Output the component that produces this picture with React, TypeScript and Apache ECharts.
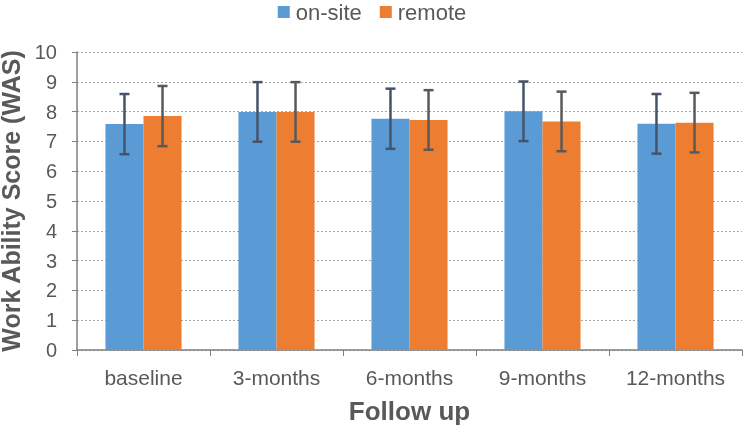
import React, { useEffect, useRef } from "react";
import * as echarts from "echarts";

const categories = ["baseline", "3-months", "6-months", "9-months", "12-months"];
const onsiteMeans = [7.58, 7.99, 7.76, 8.01, 7.59];
const onsiteErr = [1.01, 1.0, 1.01, 1.0, 1.0];
const remoteMeans = [7.85, 7.99, 7.72, 7.67, 7.63];
const remoteErr = [1.01, 1.0, 1.0, 1.0, 1.0];
const yTicks = [0, 1, 2, 3, 4, 5, 6, 7, 8, 9, 10];

const BLUE = "#5B9BD5";
const ORANGE = "#ED7D31";
const TEXT = "#595959";
const FONT = "'Liberation Sans', Arial, sans-serif";
const BAR_FRAC = 0.286;

function errorSeries(name: string, means: number[], errs: number[], side: number, color: string) {
  return {
    type: "custom",
    name: name + "-err",
    silent: true,
    z: 5,
    data: means.map((m, i) => [i, m - errs[i], m + errs[i]]),
    encode: { x: 0, y: [1, 2] },
    renderItem: (params: any, api: any) => {
      const idx = api.value(0);
      const lo = api.coord([idx, api.value(1)]);
      const hi = api.coord([idx, api.value(2)]);
      const band = api.size([1, 0])[0];
      const bw = band * BAR_FRAC;
      const x = lo[0] + side * bw / 2;
      const cap = 5;
      const style = { stroke: color, lineWidth: 2.5 };
      return {
        type: "group",
        children: [
          { type: "line", shape: { x1: x, y1: lo[1], x2: x, y2: hi[1] }, style },
          { type: "line", shape: { x1: x - cap, y1: lo[1], x2: x + cap, y2: lo[1] }, style },
          { type: "line", shape: { x1: x - cap, y1: hi[1], x2: x + cap, y2: hi[1] }, style },
        ],
      };
    },
  };
}

export default function App() {
  const ref = useRef<HTMLDivElement>(null);
  useEffect(() => {
    if (!ref.current) return;
    const chart = echarts.init(ref.current, undefined, { renderer: "svg" });
    chart.setOption({
      animation: false,
      textStyle: { fontFamily: FONT },
      legend: {
        top: -4,
        left: "center",
        itemWidth: 12,
        itemHeight: 12,
        itemGap: 18,
        icon: "rect",
        data: ["on-site", "remote"],
        textStyle: { color: TEXT, fontSize: 22, fontFamily: FONT, padding: [0, 0, 0, 1] },
      },
      grid: {
        left: 77,
        right: 2,
        top: 52,
        bottom: 75,
        containLabel: false,
        outerBoundsMode: "none",
      },
      xAxis: {
        type: "category",
        data: categories,
        name: "Follow up",
        nameLocation: "middle",
        nameGap: 48,
        nameTextStyle: { color: TEXT, fontSize: 26, fontWeight: "bold", fontFamily: FONT },
        axisLine: { lineStyle: { color: "#7f7f7f", width: 1.5 } },
        axisTick: { show: true, interval: 0, length: 6, lineStyle: { color: "#7f7f7f" }, alignWithLabel: false },
        axisLabel: { color: TEXT, fontSize: 21, margin: 17, interval: 0, hideOverlap: false, fontFamily: FONT },
      },
      yAxis: {
        type: "value",
        min: 0,
        max: 10,
        interval: 1,
        name: "Work Ability Score (WAS)",
        nameLocation: "middle",
        nameGap: 45,
        nameTextStyle: { color: TEXT, fontSize: 25, lineHeight: 24, fontWeight: "bold", fontFamily: FONT },
        axisLine: { show: true, lineStyle: { color: "#7f7f7f", width: 1.5 } },
        axisTick: { show: true, length: 5, lineStyle: { color: "#7f7f7f" } },
        axisLabel: {
          color: TEXT,
          fontSize: 20,
          margin: 20,
          fontFamily: FONT,
          formatter: (v: number) => (yTicks.includes(v) ? String(v) : ""),
        },
        splitLine: { show: true, lineStyle: { color: "#a6a6a6", type: [2, 2], width: 1.2 } },
      },
      series: [
        {
          name: "on-site",
          type: "bar",
          data: onsiteMeans,
          barWidth: (BAR_FRAC * 100).toFixed(1) + "%",
          barGap: "0%",
          itemStyle: { color: BLUE },
        },
        {
          name: "remote",
          type: "bar",
          data: remoteMeans,
          barWidth: (BAR_FRAC * 100).toFixed(1) + "%",
          barGap: "0%",
          itemStyle: { color: ORANGE },
        },
        errorSeries("on-site", onsiteMeans, onsiteErr, -1, "#44546A"),
        errorSeries("remote", remoteMeans, remoteErr, 1, "#595959"),
      ],
    });
    return () => chart.dispose();
  }, []);
  return (
    <div
      ref={ref}
      style={{ position: "fixed", left: 0, top: 0, width: 744, height: 425 }}
    />
  );
}
